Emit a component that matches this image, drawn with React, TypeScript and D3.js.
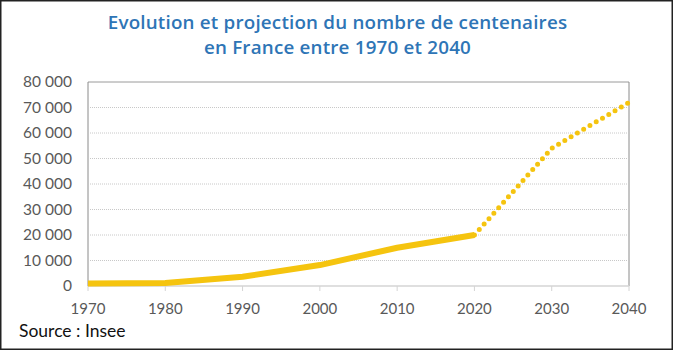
import React from 'react';
import * as d3 from 'd3';

// observed values (Insee)
const observedYears = [1970, 1980, 1990, 2000, 2010, 2020];
const observedValues = [1000, 1200, 3600, 8200, 15000, 20000];

// projection
const projectedYears = [2020, 2030, 2040];
const projectedValues = [20000, 54000, 72000];

const yTicks = [0, 10000, 20000, 30000, 40000, 50000, 60000, 70000, 80000];
const xTicks = [1970, 1980, 1990, 2000, 2010, 2020, 2030, 2040];

const titleLines = [
  'Evolution et projection du nombre de centenaires',
  'en France entre 1970 et 2040',
];
const sourceText = 'Source : Insee';

const W = 673;
const H = 350;
const margin = { top: 82, right: 44, bottom: 64, left: 88 };

const fmt = (v: number) => d3.format(',')(v).replace(/,/g, ' ');

export default function App() {
  const x = d3.scaleLinear().domain([1970, 2040]).range([margin.left, W - margin.right]);
  const y = d3.scaleLinear().domain([0, 80000]).range([H - margin.bottom, margin.top]);

  const line = d3
    .line<[number, number]>()
    .x(d => x(d[0]))
    .y(d => y(d[1]));

  const obs = observedYears.map((yr, i) => [yr, observedValues[i]] as [number, number]);
  const proj = projectedYears.map((yr, i) => [yr, projectedValues[i]] as [number, number]);

  const color = '#F5C40F';
  const grey = '#595959';

  return (
    <svg
      width={W}
      height={H}
      style={{ position: 'absolute', left: 0, top: 0, background: '#fff' }}
      fontFamily="Lato, 'Open Sans', sans-serif"
    >
      <rect x={0.75} y={0.75} width={W - 1.5} height={H - 1.5} fill="#fff" stroke="#222" strokeWidth={1.5} />

      {titleLines.map((t, i) => (
        <text
          key={i}
          x={W / 2 + 1}
          y={29 + i * 25}
          textAnchor="middle"
          fill="#2E75B6"
          fontFamily="'Open Sans', sans-serif"
          fontSize={18.8}
          fontWeight={600}
          letterSpacing={0.2}
        >
          {t}
        </text>
      ))}

      {/* grid */}
      {yTicks.slice(1, -1).map(t => (
        <line
          key={t}
          x1={x(1970) + 2}
          x2={x(2040) - 2}
          y1={y(t)}
          y2={y(t)}
          stroke="#c8c8c8"
          strokeWidth={1}
          strokeDasharray="1,1"
        />
      ))}

      {/* frame */}
      <line x1={x(1970)} x2={x(2040)} y1={y(80000)} y2={y(80000)} stroke="#9a9a9a" />
      <line x1={x(1970)} x2={x(1970)} y1={y(80000)} y2={y(0)} stroke="#8a8a8a" />
      <line x1={x(2040)} x2={x(2040)} y1={y(80000)} y2={y(0)} stroke="#8a8a8a" />
      <line x1={x(1970)} x2={x(2040)} y1={y(0)} y2={y(0)} stroke="#d4d4d4" strokeWidth={1.5} />
      {xTicks.map(t => (
        <line key={t} x1={x(t)} x2={x(t)} y1={y(0)} y2={y(0) + 5} stroke="#d4d4d4" />
      ))}

      {/* y labels */}
      {yTicks.map(t => (
        <text key={t} x={72} y={y(t)} dy="0.35em" textAnchor="end" fill={grey} fontSize={15.5}>
          {fmt(t)}
        </text>
      ))}

      {/* x labels */}
      {xTicks.map(t => (
        <text key={t} x={x(t)} y={y(0) + 28} textAnchor="middle" fill={grey} fontSize={15}>
          {t}
        </text>
      ))}

      <path d={line(obs) || ''} fill="none" stroke={color} strokeWidth={6} strokeLinejoin="round" />
      <path
        d={line(proj) || ''}
        fill="none"
        stroke={color}
        strokeWidth={5}
        strokeLinecap="round"
        strokeDasharray="0,7.3"
      />

      <text x={19} y={337} fill="#111" fontSize={17.5}>
        {sourceText}
      </text>
    </svg>
  );
}
